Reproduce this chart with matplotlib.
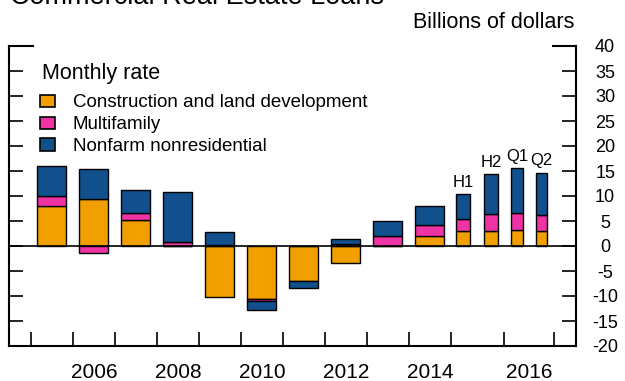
import matplotlib.pyplot as plt
from matplotlib.patches import Patch

plt.rcParams['font.family'] = ['Liberation Sans', 'DejaVu Sans']
plt.rcParams['axes.unicode_minus'] = False

# periods: annual 2005-2014, then halves of 2015 and quarters of 2016
periods = ['2005', '2006', '2007', '2008', '2009', '2010', '2011', '2012', '2013', '2014',
           '2015 H1', '2015 H2', '2016 Q1', '2016 Q2']
period_tags = ['', '', '', '', '', '', '', '', '', '', 'H1', 'H2', 'Q1', 'Q2']

construction = [8.0, 9.35, 5.3, 0.0, -10.1, -10.5, -7.05, -3.4, 0.0, 2.0, 3.0, 3.0, 3.15, 3.1]
multifamily = [2.0, -1.3, 1.4, 0.9, 0.2, -0.4, 0.1, 0.5, 2.0, 2.2, 2.45, 3.45, 3.5, 3.15]
nonfarm = [6.0, 6.0, 4.5, 10.0, 2.6, -1.9, -1.3, 1.0, 3.0, 3.9, 4.9, 8.0, 8.95, 8.45]

year_labels = ['2006', '2008', '2010', '2012', '2014', '2016']

colors = {'Construction and land development': '#f09e00',
          'Multifamily': '#ee34a4',
          'Nonfarm nonresidential': '#114f8d'}

# x layout: one unit per year for the annual bars, narrower bars after 2014
xpos = list(range(10)) + [9.80, 10.46, 11.08, 11.66]
widths = [0.69] * 10 + [0.333, 0.333, 0.28, 0.28]
year_bounds = [i - 0.5 for i in range(11)] + [10.76, 11.95]
label_pos = [1, 3, 5, 7, 9, 11.36]

fig = plt.figure(figsize=(6.25, 3.81), dpi=100)
ax = fig.add_axes([9 / 625, 1 - 346 / 381, 567 / 625, 300 / 381])

# stack positives upward and negatives downward
pos_base = [0.0] * len(periods)
neg_base = [0.0] * len(periods)
for name, vals in [('Construction and land development', construction),
                   ('Multifamily', multifamily),
                   ('Nonfarm nonresidential', nonfarm)]:
    bottoms = []
    for i, v in enumerate(vals):
        if v >= 0:
            bottoms.append(pos_base[i])
            pos_base[i] += v
        else:
            bottoms.append(neg_base[i])
            neg_base[i] += v
    ax.bar(xpos, vals, width=widths, bottom=bottoms, color=colors[name],
           edgecolor='black', linewidth=1.0, zorder=2)

for i, tag in enumerate(period_tags):
    if tag:
        ax.text(xpos[i], pos_base[i] + 0.8, tag, ha='center', va='bottom', fontsize=12)

ax.axhline(0, color='black', linewidth=1.2, zorder=3)

ax.set_xlim(-1.02, 12.48)
ax.set_ylim(-20, 40)
ax.spines['top'].set_visible(False)
for s in ['left', 'right', 'bottom']:
    ax.spines[s].set_linewidth(1.5)

ax.set_yticks(range(-20, 41, 5))
ax.tick_params(axis='y', which='major', direction='in', length=10, width=1.2,
               left=True, right=True, labelleft=False, labelright=True,
               labelsize=13, pad=21)
for lab in ax.get_yticklabels():
    lab.set_horizontalalignment('center')

ax.set_xticks(year_bounds)
ax.set_xticklabels([])
ax.set_xticks(label_pos, minor=True)
ax.set_xticklabels(year_labels, minor=True)
ax.tick_params(axis='x', which='major', direction='in', length=10, width=1.2)
ax.tick_params(axis='x', which='minor', length=0, labelsize=15, pad=12)

# little cap at the top corners
ax.plot([0, 0.043], [1, 1], transform=ax.transAxes, color='black', lw=1.5, clip_on=False)
ax.plot([0.96, 1], [1, 1], transform=ax.transAxes, color='black', lw=1.5, clip_on=False)

fig.text(42 / 625, 1 - 79 / 381, 'Monthly rate', ha='left', va='baseline', fontsize=15.5)

handles = [Patch(facecolor=c, edgecolor='black', linewidth=1.2) for c in colors.values()]
leg = ax.legend(handles, list(colors.keys()), loc='upper left',
                bbox_to_anchor=(0.0555, 0.839), frameon=False, fontsize=13.5,
                handlelength=0.78, handleheight=0.62,
                handletextpad=0.95, labelspacing=0.26,
                borderaxespad=0, borderpad=0)

fig.text(574 / 625, 1 - 28 / 381, 'Billions of dollars', ha='right', va='baseline', fontsize=15.5)
fig.text(10 / 625, 1 - 4 / 381, 'Commercial Real Estate Loans', ha='left', va='baseline', fontsize=19.5)

fig.savefig('out.png', dpi=100)
